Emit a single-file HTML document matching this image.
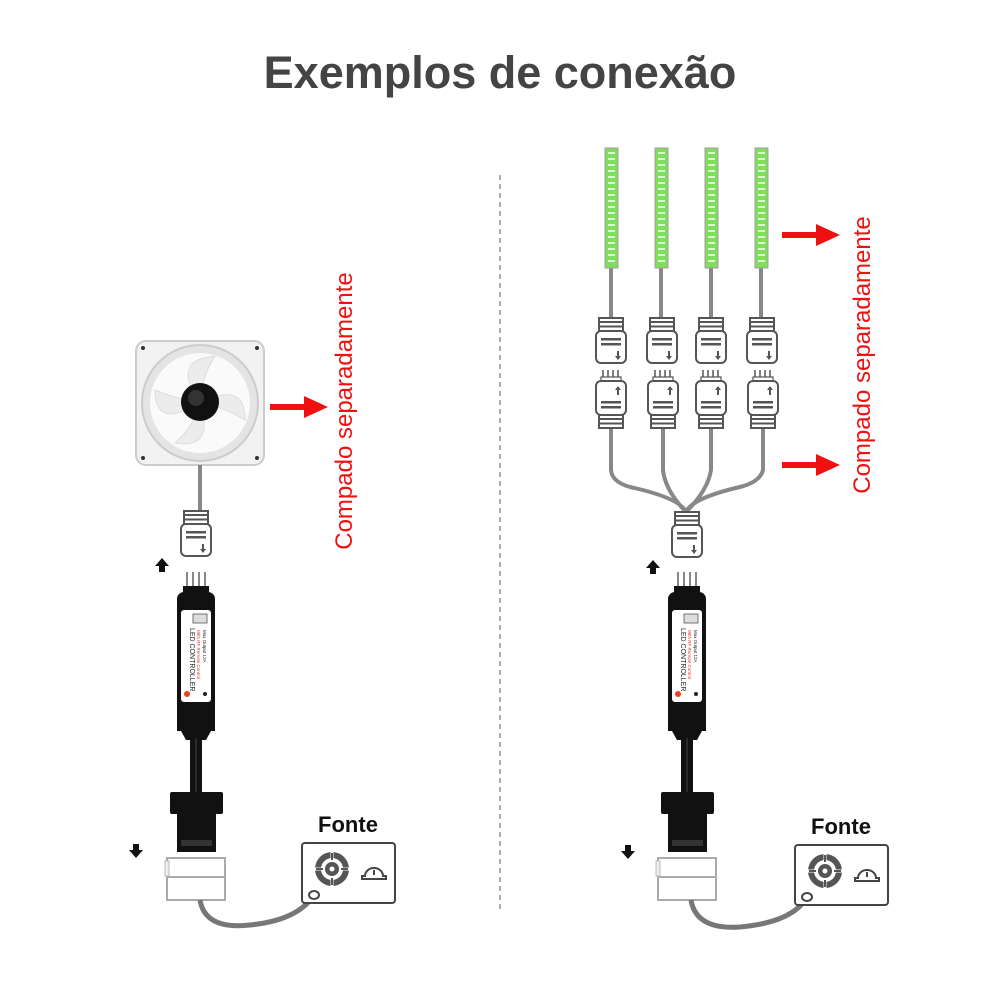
<!DOCTYPE html>
<html><head><meta charset="utf-8"><style>
body{margin:0;background:#fff;width:1000px;height:1000px;overflow:hidden}
svg{display:block}
</style></head><body>
<svg width="1000" height="1000" viewBox="0 0 1000 1000" xmlns="http://www.w3.org/2000/svg" font-family="Liberation Sans, sans-serif">
<defs>
  <g id="fem">
    <rect x="-12" y="0" width="24" height="13" fill="#fff" stroke="#555" stroke-width="2"/>
    <line x1="-12" y1="4" x2="12" y2="4" stroke="#555" stroke-width="2"/>
    <line x1="-12" y1="8.5" x2="12" y2="8.5" stroke="#555" stroke-width="2"/>
    <rect x="-15" y="13" width="30" height="32" rx="5" fill="#fff" stroke="#555" stroke-width="2"/>
    <rect x="-10" y="20" width="20" height="2.5" fill="#555"/>
    <rect x="-10" y="25" width="20" height="2.5" fill="#555"/>
    <path d="M6 33v5h-2l3 4 3-4h-2v-5z" fill="#555"/>
  </g>
  <g id="male">
    <g stroke="#555" stroke-width="1.5"><line x1="-8" y1="0" x2="-8" y2="11"/><line x1="-3" y1="0" x2="-3" y2="11"/><line x1="2" y1="0" x2="2" y2="11"/><line x1="7" y1="0" x2="7" y2="11"/></g>
    <rect x="-10" y="7" width="20" height="4" fill="#fff" stroke="#555" stroke-width="1.2"/>
    <rect x="-15" y="11" width="30" height="34" rx="5" fill="#fff" stroke="#555" stroke-width="2"/>
    <path d="M6 25v-5h-2l3-4 3 4h-2v5z" fill="#555"/>
    <rect x="-10" y="31" width="20" height="2.5" fill="#555"/>
    <rect x="-10" y="36" width="20" height="2.5" fill="#555"/>
    <rect x="-12" y="45" width="24" height="13" fill="#fff" stroke="#555" stroke-width="2"/>
    <line x1="-12" y1="49" x2="12" y2="49" stroke="#555" stroke-width="2"/>
    <line x1="-12" y1="53.5" x2="12" y2="53.5" stroke="#555" stroke-width="2"/>
  </g>
  <g id="ctrl">
    <g stroke="#888" stroke-width="2"><line x1="-9" y1="-18" x2="-9" y2="0"/><line x1="-3" y1="-18" x2="-3" y2="0"/><line x1="3" y1="-18" x2="3" y2="0"/><line x1="9" y1="-18" x2="9" y2="0"/></g>
    <rect x="-13" y="-4" width="26" height="10" fill="#111"/>
    <rect x="-19" y="2" width="38" height="138" rx="7" fill="#111"/>
    <rect x="-15" y="20" width="30" height="92" rx="3" fill="#fff"/>
    <rect x="-3" y="24" width="14" height="9" fill="#ddd" stroke="#555" stroke-width="0.8"/>
    <circle cx="-9" cy="104" r="3" fill="#f04020"/>
    <circle cx="9" cy="104" r="2" fill="#222"/>
    <text transform="translate(-6,38) rotate(90)" font-size="7" fill="#222">LED CONTROLLER</text>
    <text transform="translate(1,40) rotate(90)" font-size="4.5" fill="#e03020">With RF Remote Control</text>
    <text transform="translate(7,40) rotate(90)" font-size="4.5" fill="#222">Max Output 12A</text>
    <rect x="-19" y="125" width="38" height="16" fill="#111"/>
    <path d="M-15 141 L15 141 L10 150 L-10 150Z" fill="#111"/>
    <rect x="-6" y="148" width="12" height="56" fill="#111"/>
    <line x1="0" y1="148" x2="0" y2="204" stroke="#444" stroke-width="1"/>
    <rect x="-26" y="202" width="53" height="22" rx="2" fill="#111"/>
    <rect x="-19" y="222" width="39" height="40" fill="#111"/>
    <rect x="-15" y="250" width="31" height="6" fill="#333"/>
    <rect x="-29" y="268" width="58" height="42" fill="#fff" stroke="#aaa" stroke-width="2"/>
    <line x1="-29" y1="287" x2="29" y2="287" stroke="#aaa" stroke-width="2"/>
    <rect x="-31" y="271" width="4" height="15" fill="#eee" stroke="#bbb"/>
  </g>
  <g id="psu">
    <rect x="0" y="0" width="93" height="60" rx="3" fill="#fff" stroke="#444" stroke-width="2"/>
    <circle cx="30" cy="26" r="17" fill="#555"/>
    <circle cx="30" cy="26" r="11" fill="#fff"/>
    <circle cx="30" cy="26" r="7" fill="#555"/>
    <circle cx="30" cy="26" r="2.5" fill="#fff"/>
    <g stroke="#fff" stroke-width="3"><line x1="30" y1="8" x2="30" y2="16"/><line x1="30" y1="36" x2="30" y2="44"/><line x1="12" y1="26" x2="20" y2="26"/><line x1="40" y1="26" x2="48" y2="26"/></g>
    <g stroke="#555" stroke-width="2"><line x1="30" y1="10" x2="30" y2="17"/><line x1="30" y1="35" x2="30" y2="42"/><line x1="14" y1="26" x2="21" y2="26"/><line x1="39" y1="26" x2="46" y2="26"/></g>
    <path d="M63 33 a9 8 0 0 1 18 0 h3 v3 h-24 v-3z" fill="#fff" stroke="#444" stroke-width="2"/>
    <line x1="72" y1="27" x2="72" y2="32" stroke="#444" stroke-width="2"/>
    <ellipse cx="12" cy="52" rx="5" ry="4" fill="#fff" stroke="#444" stroke-width="2"/>
  </g>
  <g id="strip">
    <rect x="0" y="0" width="13" height="120" fill="#7ee05a" stroke="#a9a" stroke-width="1"/>
    <g stroke="#fff" stroke-width="1.5">
      <line x1="3" y1="5" x2="10" y2="5"/><line x1="3" y1="11" x2="10" y2="11"/><line x1="3" y1="17" x2="10" y2="17"/><line x1="3" y1="23" x2="10" y2="23"/><line x1="3" y1="29" x2="10" y2="29"/><line x1="3" y1="35" x2="10" y2="35"/><line x1="3" y1="41" x2="10" y2="41"/><line x1="3" y1="47" x2="10" y2="47"/><line x1="3" y1="53" x2="10" y2="53"/><line x1="3" y1="59" x2="10" y2="59"/><line x1="3" y1="65" x2="10" y2="65"/><line x1="3" y1="71" x2="10" y2="71"/><line x1="3" y1="77" x2="10" y2="77"/><line x1="3" y1="83" x2="10" y2="83"/><line x1="3" y1="89" x2="10" y2="89"/><line x1="3" y1="95" x2="10" y2="95"/><line x1="3" y1="101" x2="10" y2="101"/><line x1="3" y1="107" x2="10" y2="107"/><line x1="3" y1="113" x2="10" y2="113"/>
    </g>
  </g>
  <path id="up" d="M-3 8v-6h-4l7-8 7 8h-4v6z" fill="#111"/>
  <path id="dn" d="M-3 -8v6h-4l7 8 7-8h-4v-6z" fill="#111"/>
  <g id="rarr"><rect x="0" y="-3" width="36" height="6" fill="#f01010"/><path d="M34 -11 L58 0 L34 11Z" fill="#f01010"/></g>
</defs>

<text x="500" y="88" text-anchor="middle" font-size="45" font-weight="bold" fill="#444">Exemplos de conexão</text>
<line x1="500" y1="175" x2="500" y2="910" stroke="#777" stroke-width="1.2" stroke-dasharray="5,4"/>

<!-- LEFT -->
<g>
  <rect x="136" y="341" width="128" height="124" rx="10" fill="#f2f2f2" stroke="#ccc" stroke-width="2"/>
  <circle cx="200" cy="403" r="58" fill="#e4e4e4" stroke="#ccc" stroke-width="2"/>
  <circle cx="200" cy="403" r="50" fill="#fafafa"/>
  <g fill="#ececec" stroke="#ddd">
    <path d="M200 403 Q170 360 215 356 Q200 380 200 403Z"/>
    <path d="M200 403 Q245 380 245 420 Q220 405 200 403Z"/>
    <path d="M200 403 Q215 450 175 443 Q195 425 200 403Z"/>
    <path d="M200 403 Q155 430 155 390 Q180 400 200 403Z"/>
  </g>
  <circle cx="200" cy="402" r="19" fill="#111"/>
  <circle cx="196" cy="398" r="8" fill="#333"/>
  <circle cx="143" cy="348" r="2" fill="#333"/><circle cx="257" cy="348" r="2" fill="#333"/>
  <circle cx="143" cy="458" r="2" fill="#333"/><circle cx="257" cy="458" r="2" fill="#333"/>
  <line x1="200" y1="465" x2="200" y2="511" stroke="#888" stroke-width="4"/>
  <use href="#fem" x="196" y="511"/>
  <use href="#up" x="162" y="564"/>
  <use href="#ctrl" x="196" y="590"/>
  <use href="#dn" x="136" y="852"/>
  <path d="M200 900 Q205 930 250 925 Q300 920 315 893" fill="none" stroke="#777" stroke-width="5"/>
  <use href="#psu" x="302" y="843"/>
  <text x="348" y="832" text-anchor="middle" font-size="22" font-weight="bold" fill="#111">Fonte</text>
  <use href="#rarr" x="270" y="407"/>
  <text transform="translate(352,411) rotate(-90)" text-anchor="middle" font-size="24" fill="#f01010">Compado separadamente</text>
</g>

<!-- RIGHT -->
<g>
  <g stroke="#888" stroke-width="4" fill="none">
    <line x1="611" y1="268" x2="611" y2="319"/><line x1="661" y1="268" x2="661" y2="319"/><line x1="711" y1="268" x2="711" y2="319"/><line x1="761" y1="268" x2="761" y2="319"/>
    <path d="M611 428 V470 Q612 482 630 487 Q680 498 686 512"/>
    <path d="M663 428 V470 Q665 490 686 512"/>
    <path d="M711 428 V470 Q708 490 686 512"/>
    <path d="M763 428 V470 Q760 482 740 487 Q692 498 686 512"/>
  </g>
  <use href="#strip" x="605" y="148"/><use href="#strip" x="655" y="148"/><use href="#strip" x="705" y="148"/><use href="#strip" x="755" y="148"/>
  <use href="#fem" x="611" y="318"/><use href="#fem" x="662" y="318"/><use href="#fem" x="711" y="318"/><use href="#fem" x="762" y="318"/>
  <use href="#male" x="611" y="370"/><use href="#male" x="663" y="370"/><use href="#male" x="711" y="370"/><use href="#male" x="763" y="370"/>
  <use href="#fem" x="687" y="512"/>
  <use href="#up" x="653" y="566"/>
  <use href="#ctrl" x="687" y="590"/>
  <use href="#dn" x="628" y="853"/>
  <path d="M691 900 Q696 930 740 927 Q795 922 808 895" fill="none" stroke="#777" stroke-width="5"/>
  <use href="#psu" x="795" y="845"/>
  <text x="841" y="834" text-anchor="middle" font-size="22" font-weight="bold" fill="#111">Fonte</text>
  <use href="#rarr" x="782" y="235"/>
  <use href="#rarr" x="782" y="465"/>
  <text transform="translate(870,355) rotate(-90)" text-anchor="middle" font-size="24" fill="#f01010">Compado separadamente</text>
</g>
</svg>
</body></html>
